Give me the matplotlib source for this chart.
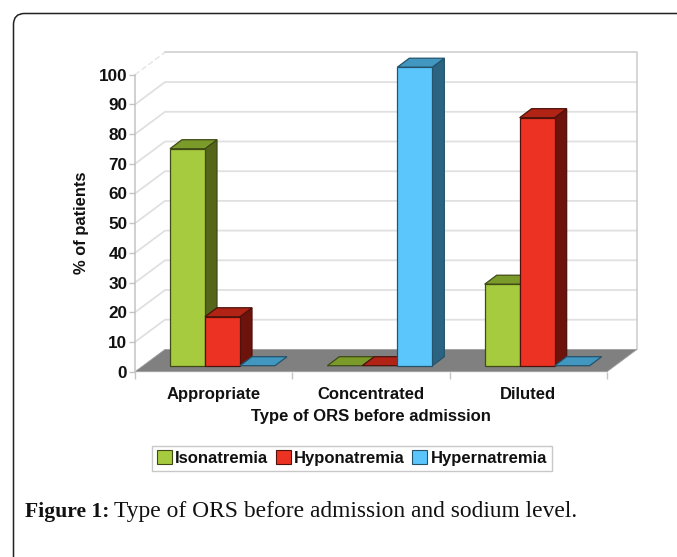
import matplotlib
matplotlib.use('Agg')
import matplotlib.pyplot as plt
from matplotlib.patches import FancyBboxPatch, Patch, Polygon
import numpy as np

# Values
categories = ['Appropriate', 'Concentrated', 'Diluted']
series_names = ['Isonatremia', 'Hyponatremia', 'Hypernatremia']
isonatremia = [72.7, 0, 27.3]
hyponatremia = [16.4, 0, 83.1]
hypernatremia = [0, 100, 0]
y_ticks = list(range(0, 101, 10))

front_colors = ['#a6cb3e', '#ec3323', '#5ac6fc']
top_colors = ['#7a9a2a', '#b02315', '#4197c0']
side_colors = ['#55651a', '#6e130b', '#2b6480']
edge_colors = ['#3f4a16', '#4e120b', '#24536b']

W, H = 677, 557
left_px, right_px, zero_px, hundred_px = 135, 607, 371.7, 74.7
cat_px = (right_px - left_px) / 3
unit_px = (zero_px - hundred_px) / 100

# 3D look: everything is in data units, converted from the pixel depth
wall_dx, wall_dy = 30 / cat_px, 22.3 / unit_px
bar_w = 35 / cat_px
gap = 26 / cat_px
bar_shift_x, bar_shift_y = 9 / cat_px, 6 / unit_px
bar_dx, bar_dy = 12 / cat_px, 9 / unit_px
bar_scale = 1.005

fig = plt.figure(figsize=(W / 100, H / 100), dpi=100, facecolor='white')
plt.rcParams['font.family'] = ['Liberation Sans', 'DejaVu Sans']

# Page layer: card outline and caption
bg = fig.add_axes([0, 0, 1, 1], zorder=0)
bg.set_xlim(0, W)
bg.set_ylim(H, 0)
bg.axis('off')
bg.add_patch(FancyBboxPatch((13.5, 13.5), 900, 900, boxstyle='round,pad=0,rounding_size=11',
                            fc='white', ec='#222222', lw=1.1))
cap1 = bg.text(25, 512, 'Figure 1:', family='Liberation Serif', weight='bold', fontsize=15.6,
               va='center', ha='left', color='#111111')
fig.canvas.draw()
ext = cap1.get_window_extent()
bg.text(ext.x1 + 5, 512, 'Type of ORS before admission and sodium level.', family='Liberation Serif',
        fontsize=16.9, va='center', ha='left', color='#111111')

ax = fig.add_axes([left_px / W, 1 - zero_px / H, (right_px - left_px) / W, (zero_px - hundred_px) / H], zorder=1)
ax.set_xlim(0, 3)
ax.set_ylim(0, 100)
ax.patch.set_alpha(0)
for s in ['top', 'right', 'bottom']:
    ax.spines[s].set_visible(False)
ax.spines['left'].set_color('#c4c4c4')
ax.spines['left'].set_linewidth(1.1)

# Back wall grid lines with the diagonal part on the left wall
for t in y_ticks[1:]:
    if t == 100:
        ax.plot([0, wall_dx], [t, t + wall_dy], color='#e4e4e4', lw=1.0, ls=(0, (4, 2)), clip_on=False, zorder=1)
    else:
        ax.plot([0, wall_dx, 3 + wall_dx], [t, t + wall_dy, t + wall_dy], color='#e0e0e0', lw=1.3,
                clip_on=False, zorder=1)
ax.plot([wall_dx, 3 + wall_dx, 3 + wall_dx], [100 + wall_dy, 100 + wall_dy, wall_dy],
        color='#cccccc', lw=1.1, clip_on=False, zorder=1.5)

# Floor
ax.add_patch(Polygon([(0, 0), (3, 0), (3 + wall_dx, wall_dy), (wall_dx, wall_dy)], closed=True,
                     fc='#808080', ec='#a0a0a0', lw=0.6, clip_on=False, zorder=2))


def draw_bar(x0, value, i):
    x = x0 + bar_shift_x
    y0 = bar_shift_y
    y1 = y0 + value * bar_scale
    kw = dict(closed=True, lw=0.9, ec=edge_colors[i], clip_on=False, zorder=3)
    if value > 0:
        ax.add_patch(Polygon([(x + bar_w, y0), (x + bar_w + bar_dx, y0 + bar_dy),
                              (x + bar_w + bar_dx, y1 + bar_dy), (x + bar_w, y1)], fc=side_colors[i], **kw))
    ax.add_patch(Polygon([(x, y1), (x + bar_dx, y1 + bar_dy), (x + bar_w + bar_dx, y1 + bar_dy), (x + bar_w, y1)],
                         fc=top_colors[i], **kw))
    if value > 0:
        ax.add_patch(Polygon([(x, y0), (x + bar_w, y0), (x + bar_w, y1), (x, y1)], fc=front_colors[i], **kw))


all_series = [isonatremia, hyponatremia, hypernatremia]
for c in range(len(categories)):
    for i, vals in enumerate(all_series):
        draw_bar(c + gap + i * bar_w, vals[c], i)

# Axes text
ax.set_yticks(y_ticks)
ax.set_yticklabels([str(t) for t in y_ticks], fontsize=12.3, fontweight='bold', color='#111111')
ax.tick_params(axis='y', length=4, width=1, color='#c4c4c4', pad=1.5)
ax.set_xticks(np.arange(len(categories)) + 0.5)
ax.set_xticklabels(categories, fontsize=12, fontweight='bold', color='#111111')
ax.set_xticks(range(4), minor=True)
ax.tick_params(axis='x', which='major', length=0, pad=11)
ax.tick_params(axis='x', which='minor', length=5, width=1, color='#c4c4c4')
ax.set_xlabel('Type of ORS before admission', fontsize=12, fontweight='bold', color='#111111', labelpad=5)
ax.set_ylabel('% of patients', fontsize=11.9, fontweight='bold', color='#111111', labelpad=7)

handles = [Patch(fc=front_colors[i], ec=edge_colors[i], lw=0.8) for i in range(3)]
ax.legend(handles, series_names, ncol=3, loc='center', bbox_to_anchor=(352 / W, 1 - 458 / H),
          bbox_transform=fig.transFigure, frameon=True, fancybox=False, edgecolor='#c8c8c8', framealpha=1,
          prop={'weight': 'bold', 'size': 12}, handlelength=0.9, handleheight=0.9, handletextpad=0.2,
          columnspacing=0.45, borderpad=0.28, labelcolor='#111111')

fig.savefig('out.png', dpi=100)
